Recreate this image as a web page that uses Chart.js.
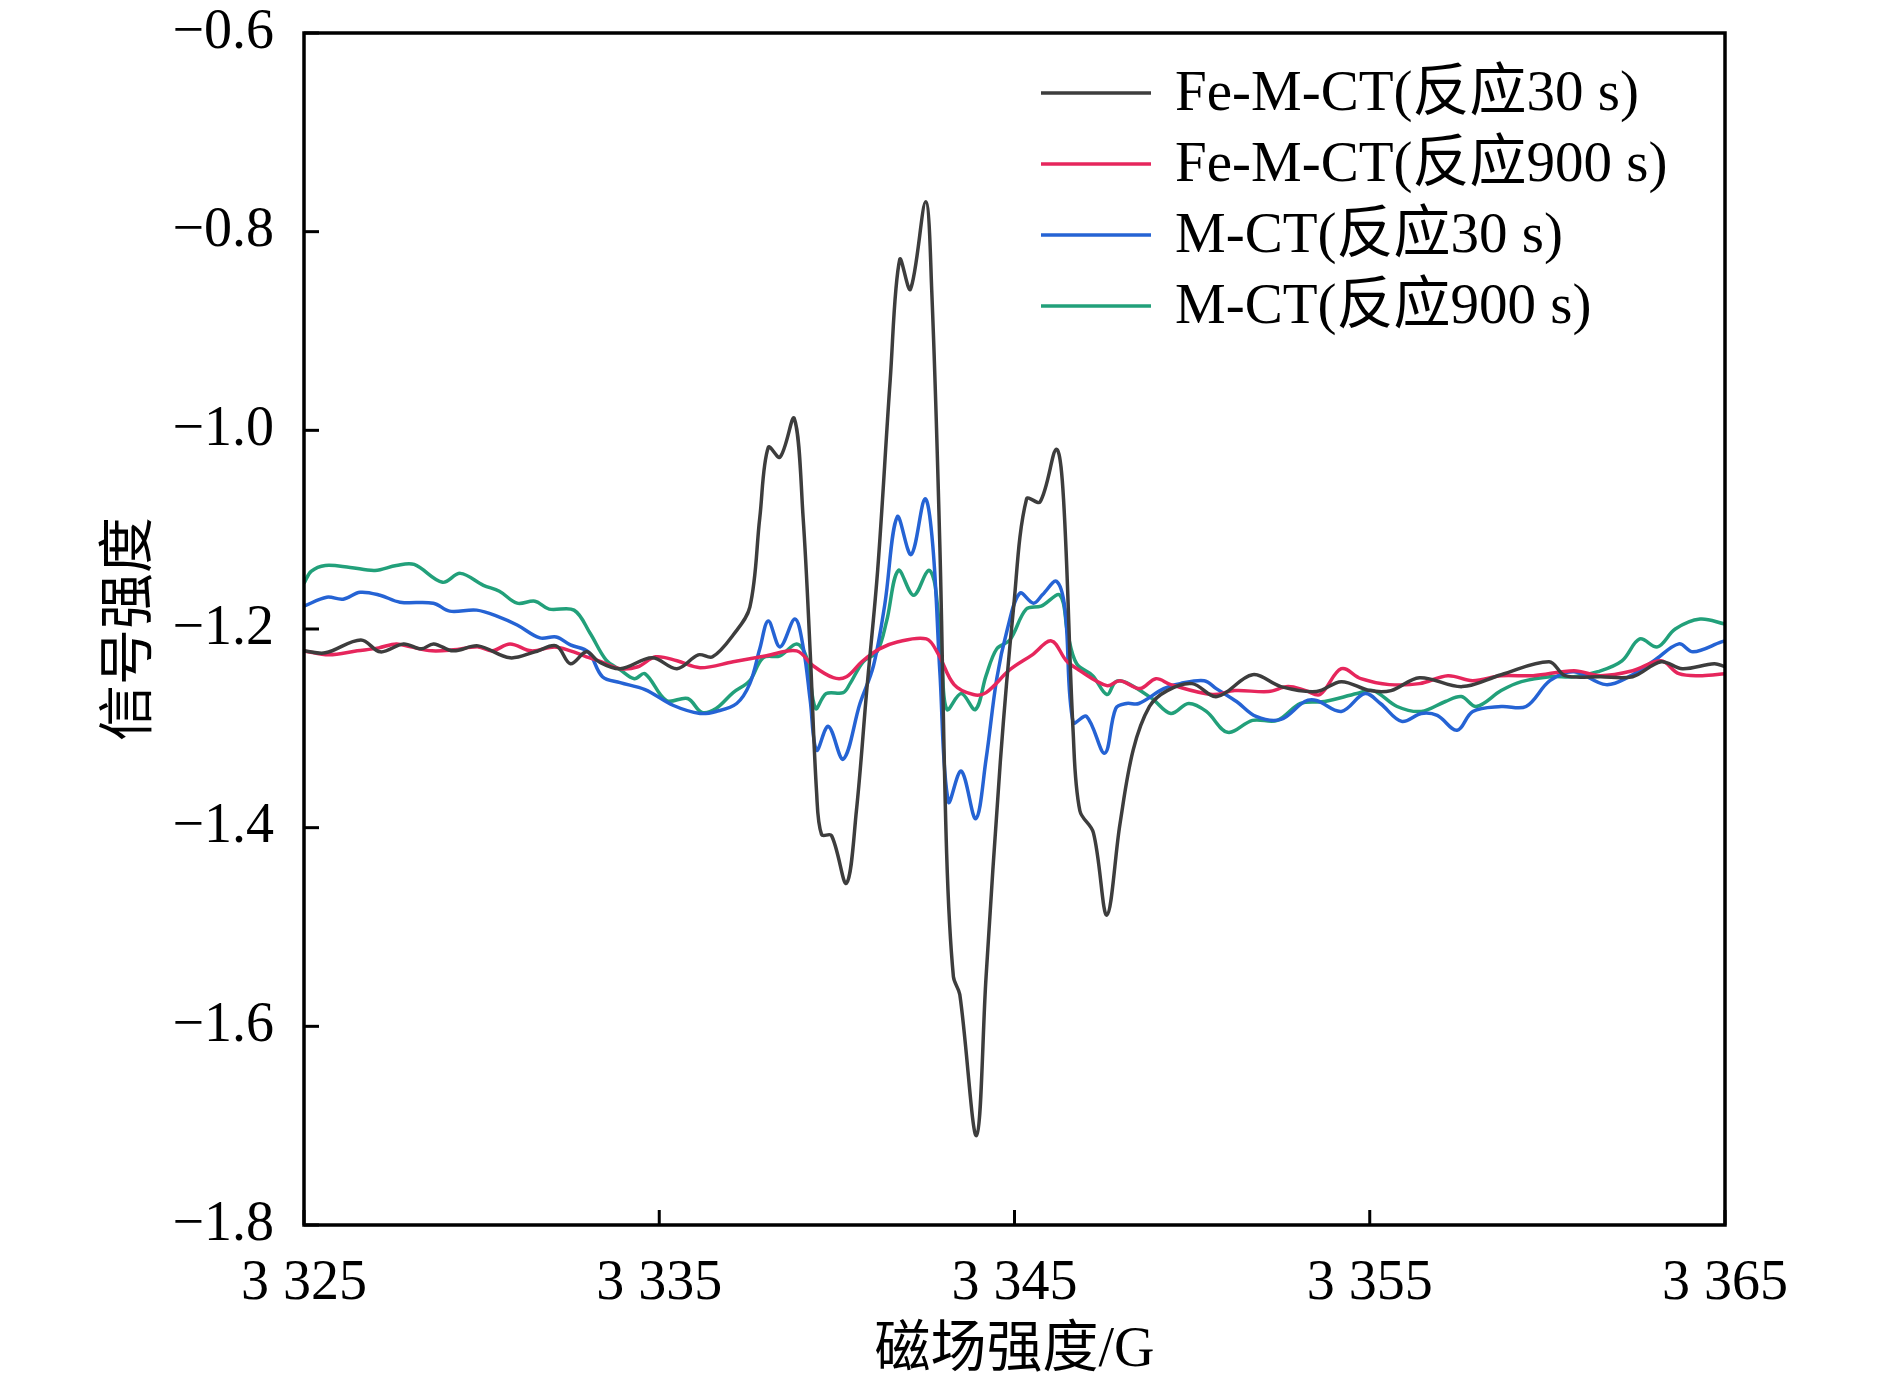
<!DOCTYPE html>
<html>
<head>
<meta charset="utf-8">
<title>EPR</title>
<script src="https://cdn.jsdelivr.net/npm/chart.js@4.4.1/dist/chart.umd.min.js"></script>
<style>
  html, body { margin: 0; padding: 0; background: #fff; }
  #wrap { width: 1890px; height: 1387px; }
</style>
</head>
<body>
<div id="wrap"><canvas id="epr" width="1890" height="1387"></canvas></div>
<script>
// values (field in G, signal in a.u.)
const seriesLabels = ['Fe-M-CT(反应30 s)', 'Fe-M-CT(反应900 s)', 'M-CT(反应30 s)', 'M-CT(反应900 s)'];
const seriesColors = ['#3d3d3d', '#e6265c', '#2563d4', '#22a07a'];

const fe30Field = [3325, 3325.6, 3326.6, 3327.15, 3327.8, 3328.3, 3328.65, 3329.2, 3329.9, 3330.8,
  3331.5, 3332.1, 3332.5, 3332.95, 3333.3, 3333.9, 3334.8, 3335.5, 3336.1, 3336.5,
  3337.08, 3337.55, 3337.83, 3338.07, 3338.4, 3338.8, 3339.05, 3339.25, 3339.43, 3339.57,
  3339.85, 3340.27, 3340.55, 3340.84, 3341.15, 3341.5, 3341.77, 3342.07, 3342.5, 3342.67,
  3342.9, 3343.09, 3343.28, 3343.46, 3343.93, 3344.2, 3344.6, 3344.97, 3345.34, 3345.72,
  3346.18, 3346.38, 3346.65, 3346.84, 3347.22, 3347.6, 3347.97, 3348.34, 3348.8, 3349.3,
  3350.0, 3350.7, 3351.7, 3352.5, 3353.5, 3354.2, 3355.0, 3355.6, 3356.4, 3357.6,
  3358.7, 3360.05, 3360.5, 3361.5, 3362.4, 3363.2, 3363.8, 3364.7, 3365];
const fe30Signal = [-1.222, -1.224, -1.211, -1.223, -1.215, -1.22, -1.215, -1.222, -1.217, -1.229,
  -1.223, -1.217, -1.235, -1.223, -1.233, -1.24, -1.229, -1.24, -1.226, -1.228,
  -1.206, -1.178, -1.088, -1.017, -1.027, -0.988, -1.088, -1.224, -1.365, -1.407,
  -1.408, -1.456, -1.383, -1.262, -1.14, -0.95, -0.828, -0.858, -0.77, -0.859,
  -1.118, -1.426, -1.55, -1.568, -1.71, -1.55, -1.334, -1.18, -1.069, -1.072,
  -1.019, -1.069, -1.303, -1.383, -1.405, -1.488, -1.396, -1.322, -1.278, -1.262,
  -1.255, -1.268, -1.246, -1.258, -1.263, -1.253, -1.262, -1.262, -1.249, -1.258,
  -1.246, -1.233, -1.247, -1.248, -1.248, -1.233, -1.24, -1.235, -1.238];

const fe900Field = [3325, 3325.7, 3326.5, 3327.1, 3327.6, 3328.0, 3328.6, 3329.2, 3329.9, 3330.3,
  3330.8, 3331.4, 3332.05, 3332.5, 3332.95, 3333.3, 3333.9, 3334.4, 3334.9, 3335.5,
  3336.15, 3337.08, 3338.02, 3338.87, 3339.33, 3339.9, 3340.27, 3340.7, 3341.2, 3341.7,
  3342.52, 3342.85, 3343.3, 3343.84, 3344.2, 3344.87, 3345.5, 3346.04, 3346.46, 3346.8,
  3347.6, 3347.97, 3348.53, 3348.98, 3349.4, 3350.57, 3351.2, 3352.15, 3352.7, 3353.2,
  3353.6, 3354.2, 3354.75, 3355.55, 3356.4, 3357.2, 3357.9, 3358.7, 3359.6, 3360.75,
  3361.5, 3362.4, 3363.2, 3363.7, 3364.36, 3365];
const fe900Signal = [-1.222, -1.226, -1.222, -1.219, -1.215, -1.218, -1.222, -1.221, -1.218, -1.222,
  -1.215, -1.222, -1.218, -1.222, -1.228, -1.232, -1.24, -1.238, -1.228, -1.232,
  -1.239, -1.233, -1.227, -1.222, -1.237, -1.249, -1.248, -1.233, -1.22, -1.213,
  -1.21, -1.225, -1.256, -1.266, -1.264, -1.241, -1.226, -1.212, -1.232, -1.241,
  -1.257, -1.252, -1.26, -1.25, -1.256, -1.266, -1.262, -1.263, -1.258, -1.262,
  -1.266, -1.24, -1.25, -1.256, -1.255, -1.247, -1.252, -1.247, -1.247, -1.242,
  -1.247, -1.242, -1.232, -1.245, -1.247, -1.245];

const m30Field = [3325, 3325.64, 3326.1, 3326.58, 3327.14, 3327.7, 3328.64, 3329.1, 3329.86, 3330.5,
  3331, 3331.64, 3332.1, 3332.5, 3333, 3333.4, 3333.9, 3334.6, 3335.4, 3336.15,
  3336.6, 3337.18, 3337.55, 3337.83, 3338.07, 3338.4, 3338.82, 3339.06, 3339.25, 3339.43,
  3339.76, 3340.18, 3340.65, 3341.03, 3341.35, 3341.7, 3342.09, 3342.48, 3342.7, 3342.9,
  3343.14, 3343.5, 3343.91, 3344.2, 3344.5, 3344.8, 3345.15, 3345.53, 3345.8, 3346.18,
  3346.42, 3346.65, 3347.03, 3347.54, 3347.85, 3348.15, 3348.5, 3349.2, 3349.66, 3350.34,
  3350.68, 3351.25, 3351.8, 3352.5, 3353.17, 3353.5, 3354.2, 3354.86, 3355.3, 3355.9,
  3356.45, 3356.9, 3357.46, 3357.9, 3358.7, 3359.4, 3360.07, 3360.75, 3361.65, 3362.3,
  3363, 3363.7, 3364.1, 3364.9, 3365];
const m30Signal = [-1.177, -1.168, -1.17, -1.163, -1.166, -1.173, -1.174, -1.182, -1.181, -1.188,
  -1.196, -1.209, -1.208, -1.216, -1.223, -1.248, -1.254, -1.261, -1.277, -1.285,
  -1.283, -1.275, -1.255, -1.22, -1.192, -1.218, -1.19, -1.22, -1.272, -1.322,
  -1.298, -1.331, -1.275, -1.237, -1.175, -1.087, -1.125, -1.069, -1.116, -1.244,
  -1.374, -1.343, -1.391, -1.331, -1.25, -1.2, -1.164, -1.174, -1.165, -1.152,
  -1.18, -1.294, -1.288, -1.325, -1.28, -1.275, -1.275, -1.26, -1.255, -1.252,
  -1.26, -1.273, -1.288, -1.291, -1.273, -1.272, -1.283, -1.265, -1.275, -1.293,
  -1.285, -1.287, -1.302, -1.283, -1.278, -1.278, -1.252, -1.243, -1.256, -1.248,
  -1.232, -1.215, -1.223, -1.213, -1.212];

const m900Field = [3325, 3325.2, 3325.6, 3326.3, 3327, 3327.6, 3328.1, 3328.9, 3329.4, 3330.05,
  3330.5, 3331, 3331.5, 3331.9, 3332.6, 3333.05, 3333.5, 3333.9, 3334.3, 3334.6,
  3335.2, 3335.8, 3336.2, 3336.6, 3337.08, 3337.55, 3337.92, 3338.4, 3338.87, 3339.15,
  3339.4, 3339.7, 3340.18, 3340.37, 3340.74, 3341.13, 3341.4, 3341.73, 3342.16, 3342.58,
  3342.77, 3342.96, 3343.1, 3343.5, 3343.9, 3344.2, 3344.5, 3344.87, 3345.33, 3345.75,
  3346.28, 3346.5, 3346.75, 3347.2, 3347.6, 3347.85, 3348.15, 3348.87, 3349.4, 3349.9,
  3350.4, 3351, 3351.7, 3352.4, 3353.05, 3353.73, 3354.64, 3355.1, 3355.77, 3356.45,
  3357.13, 3357.58, 3358, 3358.7, 3359.27, 3360.07, 3360.75, 3361.42, 3362.1, 3362.6,
  3363.1, 3363.6, 3364.3, 3365];
const m900Signal = [-1.154, -1.142, -1.136, -1.138, -1.141, -1.136, -1.135, -1.153, -1.144, -1.156,
  -1.162, -1.174, -1.172, -1.18, -1.181, -1.204, -1.231, -1.241, -1.25, -1.245,
  -1.272, -1.27, -1.284, -1.28, -1.264, -1.252, -1.229, -1.227, -1.215, -1.229,
  -1.28, -1.265, -1.264, -1.255, -1.233, -1.223, -1.192, -1.141, -1.166, -1.141,
  -1.157, -1.236, -1.281, -1.265, -1.281, -1.247, -1.22, -1.211, -1.18, -1.177,
  -1.166, -1.205, -1.235, -1.247, -1.266, -1.253, -1.254, -1.27, -1.285, -1.275,
  -1.283, -1.304, -1.292, -1.292, -1.275, -1.273, -1.265, -1.262, -1.278, -1.283,
  -1.273, -1.268, -1.278, -1.262, -1.253, -1.248, -1.248, -1.243, -1.232, -1.21,
  -1.218, -1.2, -1.19, -1.195];

const fieldTicks = [3325, 3335, 3345, 3355, 3365];
const signalTicks = [-1.8, -1.6, -1.4, -1.2, -1.0, -0.8, -0.6];

const fontFamily = '"Liberation Serif", "Times New Roman", "Noto Sans CJK SC", serif';

function toPoints(xs, ys) {
    return xs.map((x, i) => ({ x, y: ys[i] }));
}

const allFields = [fe30Field, fe900Field, m30Field, m900Field];
const allSignals = [fe30Signal, fe900Signal, m30Signal, m900Signal];

// frame, inward tick marks and a legend laid out like the figure
const framePlugin = {
    id: 'frame',
    afterDraw(chart) {
        const { ctx, chartArea: a, scales } = chart;
        ctx.save();
        ctx.strokeStyle = '#000';
        ctx.lineWidth = 3.5;
        ctx.strokeRect(a.left, a.top, a.right - a.left, a.bottom - a.top);
        ctx.lineWidth = 3;
        fieldTicks.forEach(v => {
            const px = scales.x.getPixelForValue(v);
            ctx.beginPath();
            ctx.moveTo(px, a.bottom);
            ctx.lineTo(px, a.bottom - 15);
            ctx.stroke();
        });
        signalTicks.forEach(v => {
            const py = scales.y.getPixelForValue(v);
            ctx.beginPath();
            ctx.moveTo(a.left, py);
            ctx.lineTo(a.left + 15, py);
            ctx.stroke();
        });

        ctx.font = '57px ' + fontFamily;
        ctx.textBaseline = 'middle';
        ctx.textAlign = 'left';
        chart.data.datasets.forEach((ds, i) => {
            const y = 93 + i * 71;
            ctx.strokeStyle = ds.borderColor;
            ctx.lineWidth = 3.5;
            ctx.beginPath();
            ctx.moveTo(1041, y);
            ctx.lineTo(1151, y);
            ctx.stroke();
            ctx.fillStyle = '#000';
            ctx.fillText(ds.label, 1175, y + 2);
        });
        ctx.restore();
    }
};

new Chart(document.getElementById('epr'), {
    type: 'line',
    data: {
        datasets: seriesLabels.map((label, i) => ({
            label,
            data: toPoints(allFields[i], allSignals[i]),
            borderColor: seriesColors[i],
            borderWidth: 3.5,
            pointRadius: 0,
            tension: 0.35,
            fill: false
        }))
    },
    options: {
        responsive: false,
        animation: false,
        devicePixelRatio: 1,
        layout: { padding: { top: 33, right: 165, left: 0, bottom: 0 } },
        plugins: { legend: { display: false }, tooltip: { enabled: false } },
        scales: {
            x: {
                type: 'linear',
                min: 3325,
                max: 3365,
                afterBuildTicks: s => { s.ticks = fieldTicks.map(v => ({ value: v })); },
                afterFit: s => { s.height = 162; },
                grid: { display: false },
                border: { display: false },
                ticks: {
                    color: '#000',
                    padding: 18,
                    font: { family: fontFamily, size: 56 },
                    callback: v => String(v).replace(/^(\d)(\d{3})$/, '$1 $2')
                },
                title: {
                    display: true,
                    text: '磁场强度/G',
                    color: '#000',
                    padding: { top: 0, bottom: 2 },
                    font: { family: fontFamily, size: 56 }
                }
            },
            y: {
                type: 'linear',
                min: -1.8,
                max: -0.6,
                afterBuildTicks: s => { s.ticks = signalTicks.map(v => ({ value: v })); },
                afterFit: s => { s.width = 304; s.paddingTop = 0; },
                grid: { display: false },
                border: { display: false },
                ticks: {
                    color: '#000',
                    padding: 22,
                    font: { family: fontFamily, size: 56 },
                    callback: v => (v < 0 ? '\u2212' : '') + Math.abs(v).toFixed(1)
                },
                title: {
                    display: true,
                    text: '信号强度',
                    color: '#000',
                    padding: { top: 98, bottom: 0 },
                    font: { family: fontFamily, size: 56 }
                }
            }
        }
    },
    plugins: [framePlugin]
});
</script>
</body>
</html>
